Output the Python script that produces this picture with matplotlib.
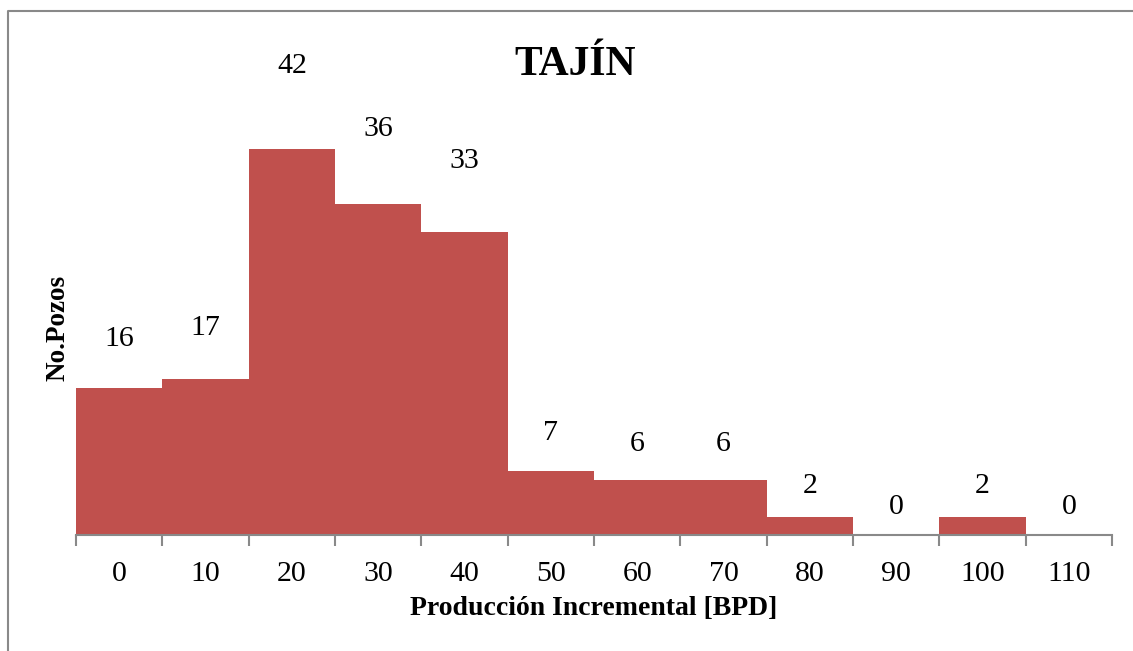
import matplotlib.pyplot as plt
from matplotlib.lines import Line2D
import numpy as np

bins = ['0', '10', '20', '30', '40', '50', '60', '70', '80', '90', '100', '110']
counts = [16, 17, 42, 36, 33, 7, 6, 6, 2, 0, 2, 0]

bar_color = '#C0504D'
axis_gray = '#898989'
W, H = 1133, 651

plt.rcParams['font.family'] = ['Liberation Serif', 'DejaVu Serif']

fig = plt.figure(figsize=(W / 100, H / 100), dpi=100)
ax = fig.add_axes([76 / W, 1 - 535 / H, (1112 - 76) / W, 0.6776])

x = np.arange(len(bins))
ax.bar(x, counts, width=1.0, color=bar_color, align='center')

# data labels sit above the bars, further up for the taller ones
for xi, v in zip(x, counts):
    ax.text(xi, v * 1.14 + 3.1, str(v), ha='center', va='center',
            fontsize=21.5, clip_on=False)

ax.set_xlim(-0.5, len(bins) - 0.5)
ax.set_ylim(0, 48)
ax.set_yticks([])
ax.set_xticks(x)
ax.set_xticklabels(bins, fontsize=21.5)
ax.set_xticks(np.arange(len(bins) + 1) - 0.5, minor=True)
ax.tick_params(axis='x', which='major', length=0, pad=19)
ax.tick_params(axis='x', which='minor', length=8, width=1.5, color=axis_gray)

for s in ['top', 'right', 'left']:
    ax.spines[s].set_visible(False)
ax.spines['bottom'].set_color(axis_gray)
ax.spines['bottom'].set_linewidth(1.5)

ax.set_xlabel('Producción Incremental [BPD]', fontsize=20, fontweight='bold',
              labelpad=6)
fig.text(58 / W, 1 - 328 / H, 'No.Pozos', rotation=90, fontsize=19.5,
         fontweight='bold', ha='center', va='center')
fig.text(575 / W, 1 - 65 / H, 'TAJÍN', fontsize=30, fontweight='bold',
         ha='center', va='center')

# chart-area border (only left and top edges visible in the crop)
fig.add_artist(Line2D([8 / W, 8 / W, 1], [0, 1 - 11 / H, 1 - 11 / H],
                      color=axis_gray, linewidth=1.5, transform=fig.transFigure))

fig.savefig('out.png', dpi=100)
